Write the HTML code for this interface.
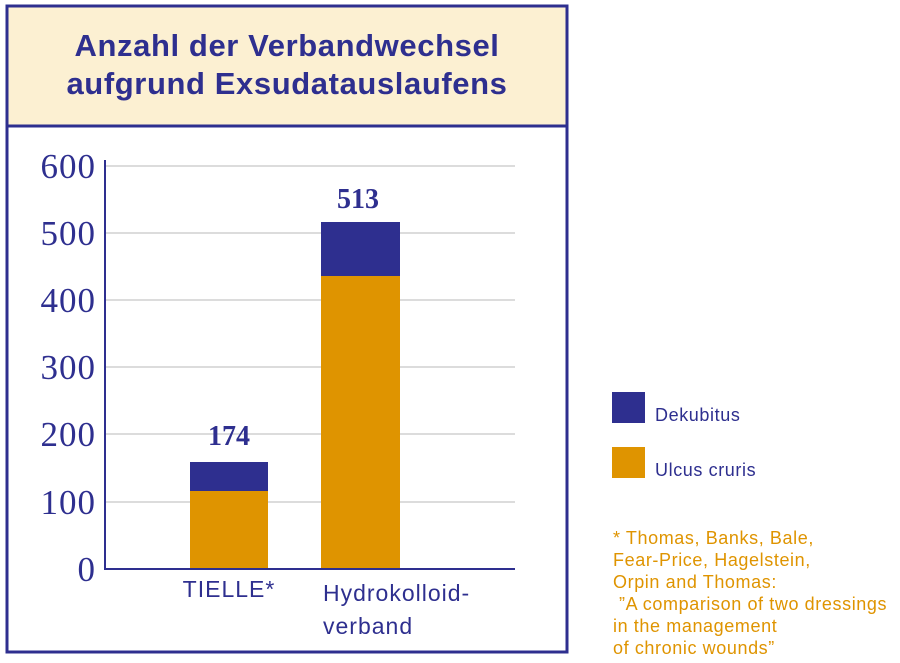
<!DOCTYPE html>
<html><head><meta charset="utf-8"><style>
body{margin:0;background:#fff;width:900px;height:658px;overflow:hidden}
</style></head><body>
<svg width="900" height="658" xmlns="http://www.w3.org/2000/svg" font-family="Liberation Sans, sans-serif">
<rect x="7" y="6" width="560" height="646" fill="#fff" stroke="#2e2f8f" stroke-width="3"/>
<rect x="7" y="6" width="560" height="120" fill="#fcf0d2" stroke="#2e2f8f" stroke-width="3"/>
<text x="287" y="56" text-anchor="middle" font-size="31" font-weight="bold" letter-spacing="0.6" fill="#2e2f8f">Anzahl der Verbandwechsel</text>
<text x="287" y="94" text-anchor="middle" font-size="31" font-weight="bold" letter-spacing="0.6" fill="#2e2f8f">aufgrund Exsudatauslaufens</text>
<g stroke="#b8b8b8" stroke-width="1">
<line x1="105" y1="166" x2="515" y2="166"/>
<line x1="105" y1="233" x2="515" y2="233"/>
<line x1="105" y1="300" x2="515" y2="300"/>
<line x1="105" y1="367" x2="515" y2="367"/>
<line x1="105" y1="434" x2="515" y2="434"/>
<line x1="105" y1="502" x2="515" y2="502"/>
</g>
<rect x="190" y="491" width="78" height="78" fill="#df9400"/>
<rect x="190" y="462" width="78" height="29" fill="#2e2f8f"/>
<rect x="321" y="276" width="79" height="293" fill="#df9400"/>
<rect x="321" y="222" width="79" height="54" fill="#2e2f8f"/>
<line x1="105" y1="160" x2="105" y2="570" stroke="#2e2f8f" stroke-width="2"/>
<line x1="104" y1="569" x2="515" y2="569" stroke="#2e2f8f" stroke-width="2"/>
<g font-family="Liberation Serif, serif" font-size="35" letter-spacing="1" fill="#2e2f8f" text-anchor="end">
<text x="96" y="178">600</text><text x="96" y="245">500</text><text x="96" y="312">400</text>
<text x="96" y="379">300</text><text x="96" y="446">200</text><text x="96" y="514">100</text>
<text x="96" y="581">0</text>
</g>
<g font-family="Liberation Serif, serif" font-size="28" font-weight="bold" fill="#2e2f8f" text-anchor="middle">
<text x="229" y="445">174</text><text x="358" y="208">513</text>
</g>
<g font-size="23" letter-spacing="1" fill="#2e2f8f">
<text x="229" y="597" text-anchor="middle">TIELLE*</text>
<text x="323" y="601">Hydrokolloid-</text>
<text x="323" y="634">verband</text>
</g>
<rect x="612" y="392" width="33" height="31" fill="#2e2f8f"/>
<rect x="612" y="447" width="33" height="31" fill="#df9400"/>
<g font-size="18" letter-spacing="0.6" fill="#2e2f8f"><text x="655" y="421">Dekubitus</text><text x="655" y="476">Ulcus cruris</text></g>
<g font-size="18" letter-spacing="0.6" fill="#df9400">
<text x="613" y="544">* Thomas, Banks, Bale,</text>
<text x="613" y="566">Fear-Price, Hagelstein,</text>
<text x="613" y="588">Orpin and Thomas:</text>
<text x="619" y="610">”A comparison of two dressings</text>
<text x="613" y="632">in the management</text>
<text x="613" y="654">of chronic wounds”</text>
</g>
</svg>
</body></html>
